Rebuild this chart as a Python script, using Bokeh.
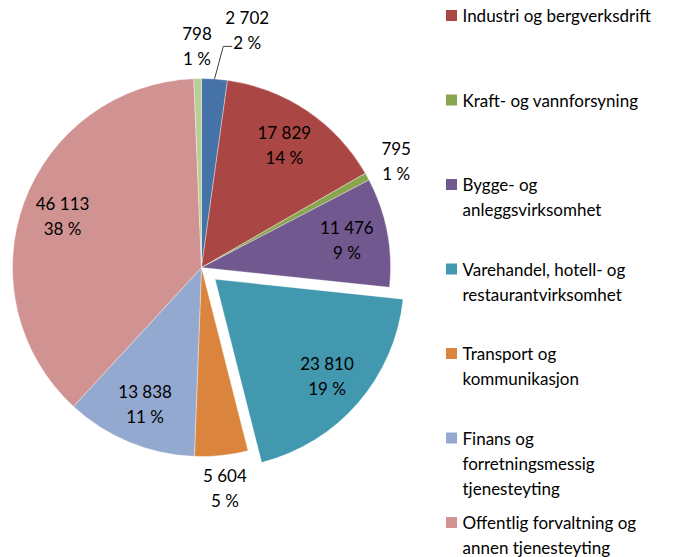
import numpy as np
from bokeh.plotting import figure
from bokeh.models import Range1d
from bokeh.core.properties import value
from bokeh.embed import file_html
from bokeh.resources import INLINE

# ---------------- data ----------------
categories = [
    "Jordbruk, skogbruk og fiske",
    "Industri og bergverksdrift",
    "Kraft- og vannforsyning",
    "Bygge- og\nanleggsvirksomhet",
    "Varehandel, hotell- og\nrestaurantvirksomhet",
    "Transport og\nkommunikasjon",
    "Finans og\nforretningsmessig\ntjenesteyting",
    "Offentlig forvaltning og\nannen tjenesteyting",
    "Uoppgitt",
]
values = [2702, 17829, 795, 11476, 23810, 5604, 13838, 46113, 798]
colors = ["#4572A7", "#AA4643", "#89A54E", "#71588F", "#4198AF",
          "#DB843D", "#93A9CF", "#D19392", "#B9CD96"]
legend_items = [1, 2, 3, 4, 5, 6, 7]

# ---------------- layout ----------------
W, H = 684, 557
cx, cy, R = 201, 290, 189
explode = [0, 0, 0, 0, 18, 0, 0, 0, 0]
outside = [True, False, True, False, False, True, False, False, True]
r_in, r_out = 148, 222
FONT = value("Lato")
FS = "17px"

vals = np.array(values, dtype=float)
total = vals.sum()
frac = vals / total
cum = np.cumsum(frac)
start = np.pi / 2 - 2 * np.pi * (cum - frac)
end = np.pi / 2 - 2 * np.pi * cum
mid = (start + end) / 2
ex = np.array(explode, dtype=float)
ox = cx + ex * np.cos(mid)
oy = cy + ex * np.sin(mid)

p = figure(width=W, height=H, output_backend="svg", toolbar_location=None,
           x_range=Range1d(0, W), y_range=Range1d(0, H),
           x_axis_type=None, y_axis_type=None, min_border=0)
p.grid.visible = False
p.outline_line_color = None
p.background_fill_color = "white"

p.wedge(x=ox, y=oy, radius=R, start_angle=start, end_angle=end,
        direction="clock", fill_color=colors, line_color="white",
        line_width=0.6, line_alpha=0.6)

# data labels
lr = np.where(outside, r_out, r_in).astype(float)
la = mid.copy()
# first (small) slice label moved aside with a leader line
lr[0] = 242
la[0] = np.pi / 2 - np.radians(10.9)
lx = ox + lr * np.cos(la)
ly = oy + lr * np.sin(la)
val_txt = [f"{v:,}".replace(",", " ") for v in values]
pct_txt = [f"{round(f * 100)} %" for f in frac]

p.text(x=lx, y=ly + 12.5, text=val_txt, text_align="center",
       text_baseline="middle", text_font=FONT, text_font_size=FS,
       text_color="#000000")
p.text(x=lx, y=ly - 12.5, text=pct_txt, text_align="center",
       text_baseline="middle", text_font=FONT, text_font_size=FS,
       text_color="#000000")

# leader line for first slice
sx = ox[0] + R * np.cos(mid[0])
sy = oy[0] + R * np.sin(mid[0])
py = ly[0] - 12.5 - 4
ex_end = lx[0] - 15
p.line(x=[sx, ex_end - 9, ex_end], y=[sy, py, py], line_color="#404040",
       line_width=1)

# legend (manual)
sq_x, tx_x = 451, 462
y_top = H - 15         # first entry centre
step = 84.5
line_h = 25
sq_y, sq_c = [], []
t_x, t_y, t_t = [], [], []
for k, idx in enumerate(legend_items):
    y0 = y_top - step * k
    sq_y.append(y0)
    sq_c.append(colors[idx])
    for j, line in enumerate(categories[idx].split("\n")):
        t_x.append(tx_x)
        t_y.append(y0 - line_h * j)
        t_t.append(line)
p.rect(x=[sq_x] * len(sq_y), y=sq_y, width=11, height=11, fill_color=sq_c,
       line_color=None)
p.text(x=t_x, y=t_y, text=t_t, text_align="left", text_baseline="middle",
       text_font=FONT, text_font_size=FS, text_color="#000000")

open("out.html", "w").write(file_html(p, INLINE))
